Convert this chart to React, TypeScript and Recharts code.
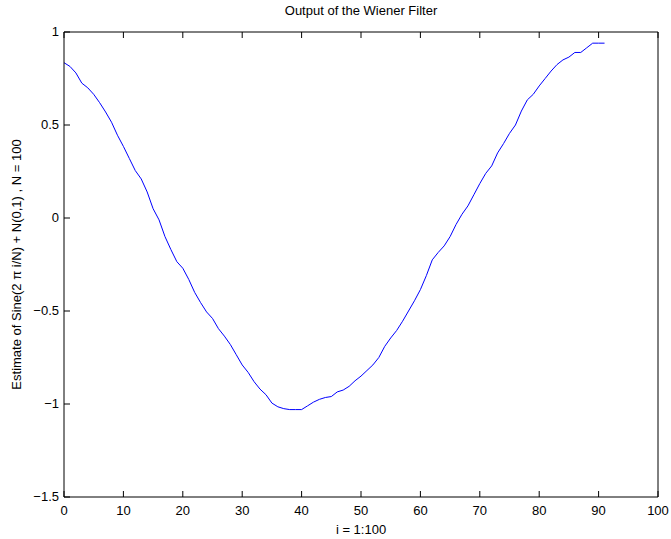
import { LineChart, Line, XAxis, YAxis } from "recharts";

const idx = Array.from({ length: 92 }, (_, k) => k);

const estimate = [
  0.835, 0.815, 0.78, 0.725, 0.7, 0.665, 0.62, 0.57, 0.515, 0.445,
  0.385, 0.32, 0.255, 0.21, 0.14, 0.05, -0.01, -0.1, -0.17, -0.235,
  -0.27, -0.33, -0.4, -0.455, -0.505, -0.54, -0.595, -0.635, -0.68, -0.735,
  -0.79, -0.83, -0.88, -0.92, -0.95, -0.995, -1.015, -1.025, -1.03, -1.03,
  -1.03, -1.01, -0.99, -0.975, -0.965, -0.96, -0.935, -0.925, -0.905, -0.875,
  -0.85, -0.82, -0.79, -0.75, -0.69, -0.645, -0.605, -0.555, -0.5, -0.445,
  -0.385, -0.31, -0.225, -0.185, -0.15, -0.1, -0.035, 0.02, 0.065, 0.125,
  0.185, 0.24, 0.28, 0.35, 0.4, 0.455, 0.5, 0.575, 0.635, 0.665,
  0.71, 0.75, 0.79, 0.825, 0.85, 0.865, 0.89, 0.89, 0.915, 0.94,
  0.94, 0.94,
];

const xTicks = [0, 10, 20, 30, 40, 50, 60, 70, 80, 90, 100];
const yTicks = [-1.5, -1, -0.5, 0, 0.5, 1];

const data = idx.map((i) => ({ i, v: estimate[i] }));

const FONT = "'Liberation Sans', Arial, sans-serif";
const FS = 13;
const fmt = (v: number) => String(v).replace("-", "\u2212");

const BottomTick = (p: any) => (
  <g>
    <line x1={p.x} y1={p.y} x2={p.x} y2={p.y - 6} stroke="#000" />
    <text x={p.x} y={p.y + 18} textAnchor="middle" fontSize={FS} fontFamily={FONT} fill="#000">
      {p.payload.value}
    </text>
  </g>
);

const TopTick = (p: any) => (
  <line x1={p.x} y1={p.y} x2={p.x} y2={p.y + 6} stroke="#000" />
);

const LeftTick = (p: any) => (
  <g>
    <line x1={p.x} y1={p.y} x2={p.x + 6} y2={p.y} stroke="#000" />
    <text x={p.x - 5} y={p.y + 4} textAnchor="end" fontSize={FS} fontFamily={FONT} fill="#000">
      {fmt(p.payload.value)}
    </text>
  </g>
);

const RightTick = (p: any) => (
  <line x1={p.x} y1={p.y} x2={p.x - 6} y2={p.y} stroke="#000" />
);

const YLabel = (p: any) => {
  const vb = p.viewBox;
  const cx = vb.x + 18;
  const cy = vb.y + vb.height / 2;
  return (
    <text
      x={cx}
      y={cy}
      textAnchor="middle"
      dominantBaseline="middle"
      transform={`rotate(-90 ${cx} ${cy})`}
      fontSize={FS}
      fontFamily={FONT}
      fill="#000"
    >
      {"Estimate of Sine(2 \u03c0 i/N) + N(0,1) ,  N = 100"}
    </text>
  );
};

export default function App() {
  return (
    <div style={{ position: "absolute", left: 0, top: 0, background: "#fff" }}>
      <LineChart width={671} height={539} data={data} margin={{ top: 0, right: 0, bottom: 0, left: 0 }}>
        <XAxis
          dataKey="i"
          type="number"
          domain={[0, 100]}
          ticks={xTicks}
          height={42}
          tickSize={0}
          tickMargin={0}
          tickLine={false}
          tick={<BottomTick />}
          axisLine={{ stroke: "#000" }}
          label={{ value: "i = 1:100", position: "insideBottom", offset: 5, fontSize: FS, fontFamily: FONT, fill: "#000" }}
        />
        <XAxis
          xAxisId="top"
          orientation="top"
          dataKey="i"
          type="number"
          domain={[0, 100]}
          ticks={xTicks}
          height={32}
          tickSize={0}
          tickMargin={0}
          tickLine={false}
          tick={<TopTick />}
          axisLine={{ stroke: "#000" }}
          label={{ value: "Output of the Wiener Filter", position: "insideTop", offset: 6, fontSize: FS, fontFamily: FONT, fill: "#000" }}
        />
        <YAxis
          type="number"
          domain={[-1.5, 1]}
          ticks={yTicks}
          width={64}
          tickSize={0}
          tickMargin={0}
          tickLine={false}
          tick={<LeftTick />}
          axisLine={{ stroke: "#000" }}
          label={{ content: <YLabel /> }}
        />
        <YAxis
          yAxisId="right"
          orientation="right"
          type="number"
          domain={[-1.5, 1]}
          ticks={yTicks}
          width={13}
          tickSize={0}
          tickMargin={0}
          tickLine={false}
          tick={<RightTick />}
          axisLine={{ stroke: "#000" }}
        />
        <Line
          type="linear"
          dataKey="v"
          stroke="#0000ff"
          strokeWidth={1}
          dot={false}
          isAnimationActive={false}
        />
      </LineChart>
    </div>
  );
}
